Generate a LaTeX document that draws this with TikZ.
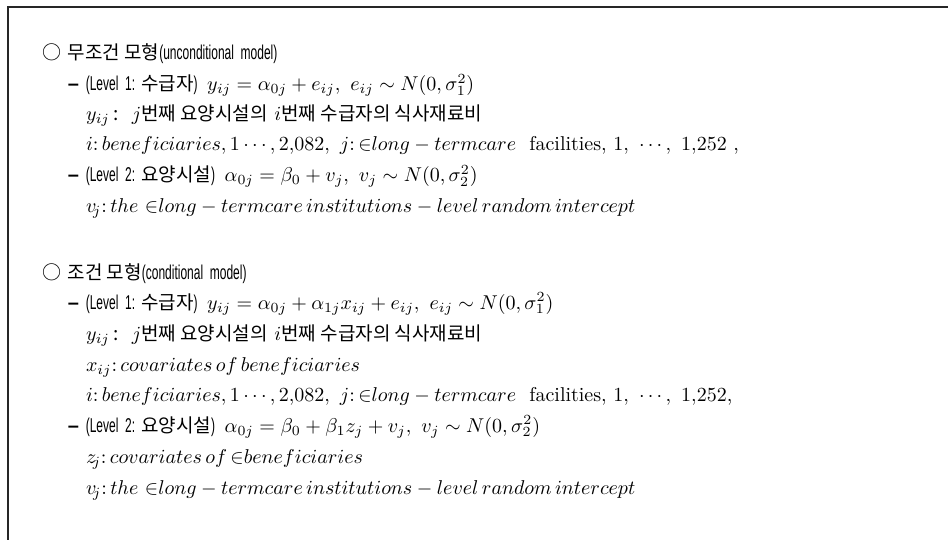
\documentclass[tikz,border=0pt]{standalone}
\usepackage{fontspec}
\newfontfamily\kr[Scale=0.95]{Noto Sans CJK KR}
\newfontfamily\nar[FakeStretch=0.6]{Liberation Sans}
\newfontfamily\lsans{Liberation Sans}
\newcommand{\bul}{{\kr ○}}
\newcommand{\dsh}{{\lsans\bfseries –}}
\newcommand{\NR}[1]{{\nar #1}}
\newcommand{\KR}[1]{{\kr #1}}
\begin{document}
\begin{tikzpicture}[x=0.5pt,y=-0.5pt,
  txt/.style={anchor=base west,inner sep=0pt,outer sep=0pt,font=\normalsize},
  frame/.style={draw=black!85,line width=1pt}]
\useasboundingbox (0,0) rectangle (948,540);
\fill[white] (0,0) rectangle (948,540);
\coordinate (fb) at (7.5,540);
\coordinate (ft) at (7.5,7.5);
\coordinate (fr) at (948,7.5);
\draw[frame] (fb) -- (ft) -- (fr);
% section 1
\node[txt] (s1) at (42,60) {\bul\ \KR{무조건 모형}\NR{(unconditional\ \ model)}};
\node[txt] (a1) at (68,91) {\dsh\ \NR{(Level\ \ 1:}\hspace{3pt}\KR{수급자}\NR{)}\hspace{1.5pt}\ $y_{ij}=\alpha_{0j}+e_{ij},\ e_{ij}\sim N(0,\sigma_1^2)$};
\node[txt] (a2) at (86,121) {$y_{ij}$\,\KR{:}\ \ $j$\KR{번째 요양시설의} $i$\KR{번째 수급자의 식사재료비}};
\node[txt] (a3) at (86,151) {$i\colon beneficiaries, 1\cdots, 2{,}082,\ j\colon {\in}long-termcare$\ \ facilities, $1,\ \cdots,\ 1{,}252$ ,};
\node[txt] (a4) at (68,182) {\dsh\ \NR{(Level\ \ 2:}\hspace{3pt}\KR{요양시설}\NR{)}\hspace{1.5pt}\ $\alpha_{0j}=\beta_0+v_j,\ v_j\sim N(0,\sigma_2^2)$};
\node[txt] (a5) at (86,213) {$v_{\!j}\colon the\ {\in}long-termcare\,institutions-level\,random\,intercept$};
% section 2
\node[txt] (s2) at (42,279) {\bul\ \KR{조건 모형}\NR{(conditional\ \ model)}};
\node[txt] (b1) at (68,309) {\dsh\ \NR{(Level\ \ 1:}\hspace{3pt}\KR{수급자}\NR{)}\hspace{1.5pt}\ $y_{ij}=\alpha_{0j}+\alpha_{1j}x_{ij}+e_{ij},\ e_{ij}\sim N(0,\sigma_1^2)$};
\node[txt] (b2) at (86,340) {$y_{ij}$\,\KR{:}\ \ $j$\KR{번째 요양시설의} $i$\KR{번째 수급자의 식사재료비}};
\node[txt] (b3) at (86,371) {$x_{ij}\colon covariates\,of\,beneficiaries$};
\node[txt] (b4) at (86,401) {$i\colon beneficiaries, 1\cdots, 2{,}082,\ j\colon {\in}long-termcare$\ \ facilities, $1,\ \cdots,\ 1{,}252$,};
\node[txt] (b5) at (68,432) {\dsh\ \NR{(Level\ \ 2:}\hspace{3pt}\KR{요양시설}\NR{)}\hspace{1.5pt}\ $\alpha_{0j}=\beta_0+\beta_1z_j+v_j,\ v_j\sim N(0,\sigma_2^2)$};
\node[txt] (b6) at (86,463) {$z_{\!j}\colon covariates\,of\,{\in}beneficiaries$};
\node[txt] (b7) at (86,494) {$v_{\!j}\colon the\ {\in}long-termcare\,institutions-level\,random\,intercept$};
\end{tikzpicture}
\end{document}
